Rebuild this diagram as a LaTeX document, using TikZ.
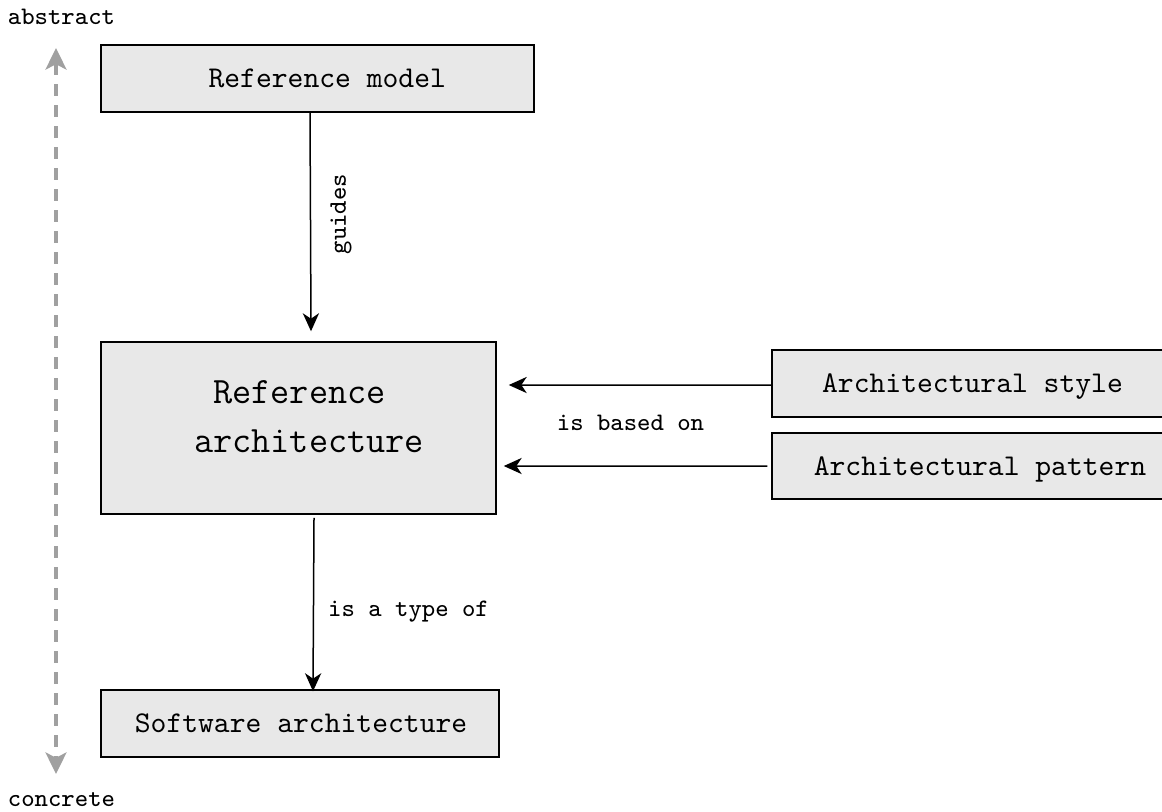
\documentclass[tikz,border=0pt]{standalone}
\usetikzlibrary{arrows.meta}
\definecolor{boxfill}{RGB}{232,232,232}
\definecolor{scalegray}{RGB}{160,160,160}
\tikzset{
  box/.style={draw=black, fill=boxfill, line width=0.5pt, inner sep=0pt,
    text depth=0pt, font=\ttfamily\fontsize{10.05}{12}\selectfont},
  bigtext/.style={inner sep=0pt, align=center,
    font=\ttfamily\fontsize{12.4}{16.3}\selectfont},
  rel/.style={-{Stealth[length=6pt,width=5.4pt,inset=1.8pt]}, line width=0.5pt},
  lbl/.style={inner sep=0pt, font=\ttfamily\fontsize{8.4}{10}\selectfont},
  scalearrow/.style={{Stealth[length=7.2pt,width=7pt,inset=1.8pt]}-{Stealth[length=7.2pt,width=7pt,inset=1.8pt]},
    draw=scalegray, line width=1.1pt, dash pattern=on 4pt off 3pt},
}
\begin{document}
\begin{tikzpicture}[x=0.33333pt,y=-0.33333pt]
\useasboundingbox (0,0) rectangle (1162,811);

% abstraction scale on the left
\coordinate (top) at (56,48);
\coordinate (bot) at (56,774);
\draw[scalearrow] (top) -- (bot);
\node[lbl, anchor=base] (abs) at (61.5,24.5) {abstract};
\node[lbl, anchor=base] (con) at (61.5,806.5) {concrete};

% boxes
\node[box, minimum width=144.33pt, minimum height=22.33pt] (rm) at (317.5,78.5) {\hspace*{6.5pt}Reference model};
\node[box, minimum width=131.67pt, minimum height=57.33pt] (ra) at (298.5,428) {};
\node[bigtext] (ratext) at (309,416.5) {Reference\hphantom{a}\\architecture};
\node[box, minimum width=132.67pt, minimum height=22.33pt] (sa) at (300,723.5) {\hspace*{0.7pt}Software architecture};
\node[box, minimum width=133.67pt, minimum height=22.33pt] (as) at (972.5,383.5) {Architectural style};
\node[box, minimum width=138.67pt, minimum height=22pt] (ap) at (980,466) {Architectural pattern};

% relations
\draw[rel] ([xshift=-2.5pt]rm.south) -- ([xshift=4.17pt,yshift=3.33pt]ra.north);
\node[lbl, rotate=90] (lguides) at (341,214) {guides};

\draw[rel] ([xshift=5.17pt,yshift=-1pt]ra.south) -- ([xshift=4.33pt,yshift=-0.67pt]sa.north);
\node[lbl] (ltype) at (408.5,611.5) {is a type of};

\draw[rel] ([yshift=-0.5pt]as.west) -- ([xshift=4pt,yshift=14.33pt]ra.east);
\draw[rel] ([xshift=-1.33pt]ap.west) -- ([xshift=2.33pt,yshift=-12.67pt]ra.east);
\node[lbl] (lbased) at (630.5,423) {is based on};
\end{tikzpicture}
\end{document}
